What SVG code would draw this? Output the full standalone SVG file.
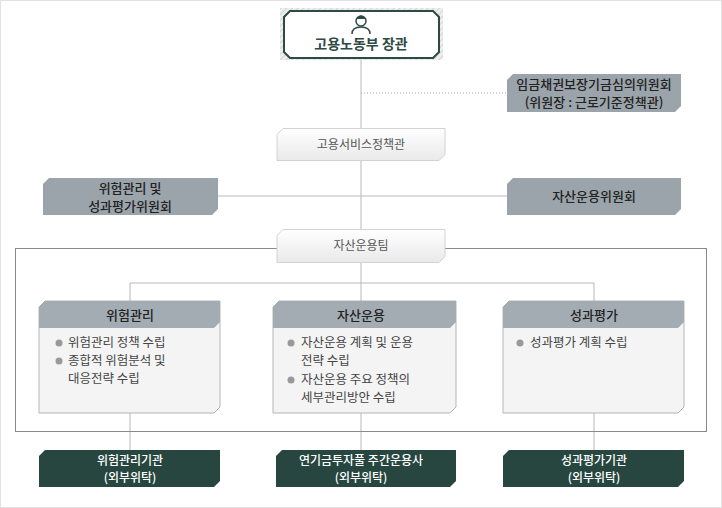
<svg xmlns="http://www.w3.org/2000/svg" width="722" height="508" viewBox="0 0 722 508">
<style>
text{font-family:"Noto Sans CJK KR","Noto Sans",sans-serif;text-anchor:middle}
.ln{stroke:#b9b9b9;stroke-width:1;fill:none}
.gray{fill:#9ba4ab}
.gt{font-size:13px;fill:#222;font-weight:500}
.lt{fill:url(#lg);stroke:#d2d2d2}
.dk{fill:#27463f}
.wt{font-size:12px;fill:#fff;font-weight:500}
.bt{font-size:12.5px;fill:#444;text-anchor:start}
.bul{fill:#999}
</style>
<defs>
<linearGradient id="lg" x1="0" y1="0" x2="0" y2="1"><stop offset="0" stop-color="#ffffff"/><stop offset="1" stop-color="#e9e9e9"/></linearGradient>
<pattern id="hatch" width="4" height="4" patternUnits="userSpaceOnUse" patternTransform="rotate(45)"><rect width="4" height="4" fill="#eee"/><line x1="0" y1="0" x2="0" y2="4" stroke="#ccc" stroke-width="1.5"/></pattern>
</defs>
<rect width="722" height="508" fill="#fff"/>
<rect x="0.5" y="0.5" width="721" height="507" fill="none" stroke="#e2e2e2"/>
<g id="connectors">
<line class="ln" x1="361" y1="58" x2="361" y2="229"/>
<line x1="361" y1="93" x2="507" y2="93" stroke="#aaa" stroke-dasharray="1,2"/>
<line class="ln" x1="218" y1="196" x2="507" y2="196"/>
<line class="ln" x1="361" y1="262" x2="361" y2="301"/>
<line class="ln" x1="130" y1="283" x2="594" y2="283"/>
<line class="ln" x1="130" y1="283" x2="130" y2="301"/>
<line class="ln" x1="594" y1="283" x2="594" y2="301"/>
<line class="ln" x1="130" y1="412" x2="130" y2="450"/>
<line class="ln" x1="361" y1="412" x2="361" y2="450"/>
<line class="ln" x1="594" y1="412" x2="594" y2="450"/>
</g>
<rect x="15.5" y="248.5" width="691" height="183" fill="none" stroke="#8a8a8a"/>
<g id="minister">
<path d="M280,8h163v52h-163z" fill="url(#hatch)"/>
<path d="M290,11h143l6,6v35l-6,6h-143l-6-6v-35z" fill="#fff" stroke="#2d4a45" stroke-width="2"/>
<circle cx="361" cy="21" r="5" fill="#fff" stroke="#2d4a45" stroke-width="1.5"/>
<path d="M356,19q5,-7 10,0" fill="#2d4a45"/>
<path d="M352,34q0,-7 9,-7q9,0 9,7" fill="none" stroke="#2d4a45" stroke-width="1.5"/>
<text x="361" y="49" font-size="14" font-weight="700" fill="#2d4a45">고용노동부 장관</text>
</g>
<g id="wage"><path class="gray" d="M513,74h168v32l-6,6h-168v-32z"/>
<text class="gt" x="594" y="89">임금채권보장기금심의위원회</text><text class="gt" x="594" y="107">(위원장 : 근로기준정책관)</text></g>
<g id="policy"><path class="lt" d="M283,128.5h162v26l-6,6h-162v-26z"/><text x="361" y="149" font-size="12" fill="#555">고용서비스정책관</text></g>
<g id="risk-comm"><path class="gray" d="M49,178h169v31l-6,6h-169v-31z"/>
<text class="gt" x="130" y="193">위험관리 및</text><text class="gt" x="130" y="211">성과평가위원회</text></g>
<g id="asset-comm"><path class="gray" d="M513,178h168v31l-6,6h-168v-31z"/><text class="gt" x="594" y="201">자산운용위원회</text></g>
<g id="team"><path class="lt" d="M283,229.5h162v27l-6,6h-162v-27z"/><text x="361" y="250" font-size="12" fill="#555">자산운용팀</text></g>
<g id="risk">
<path d="M39,307l6,-6h175v106l-6,6h-175z" fill="#f4f4f4" stroke="#b5b5b5"/>
<path d="M39,307l6,-6h175v21l-6,6h-175z" fill="#a3acb3"/>
<text class="gt" x="130" y="320">위험관리</text>
<circle class="bul" cx="59" cy="343" r="3.5"/><text class="bt" x="68" y="347">위험관리 정책 수립</text>
<circle class="bul" cx="59" cy="361" r="3.5"/><text class="bt" x="68" y="365">종합적 위험분석 및</text>
<text class="bt" x="68" y="383">대응전략 수립</text>
</g>
<g id="asset">
<path d="M273,307l6,-6h177v106l-6,6h-177z" fill="#f4f4f4" stroke="#b5b5b5"/>
<path d="M273,307l6,-6h177v21l-6,6h-177z" fill="#a3acb3"/>
<text class="gt" x="361" y="320">자산운용</text>
<circle class="bul" cx="291" cy="343" r="3.5"/><text class="bt" x="301" y="347">자산운용 계획 및 운용</text>
<text class="bt" x="301" y="365">전략 수립</text>
<circle class="bul" cx="291" cy="380" r="3.5"/><text class="bt" x="301" y="384">자산운용 주요 정책의</text>
<text class="bt" x="301" y="402">세부관리방안 수립</text>
</g>
<g id="perf">
<path d="M503,307l6,-6h175v106l-6,6h-175z" fill="#f4f4f4" stroke="#b5b5b5"/>
<path d="M503,307l6,-6h175v21l-6,6h-175z" fill="#a3acb3"/>
<text class="gt" x="594" y="320">성과평가</text>
<circle class="bul" cx="520" cy="343" r="3.5"/><text class="bt" x="530" y="347">성과평가 계획 수립</text>
</g>
<g id="ext1"><path class="dk" d="M39,456l6,-6h175v31l-6,6h-175z"/><text class="wt" x="130" y="465">위험관리기관</text><text class="wt" x="130" y="482">(외부위탁)</text></g>
<g id="ext2"><path class="dk" d="M276,456l6,-6h174v31l-6,6h-174z"/><text class="wt" x="361" y="465">연기금투자풀 주간운용사</text><text class="wt" x="361" y="482">(외부위탁)</text></g>
<g id="ext3"><path class="dk" d="M503,456l6,-6h175v31l-6,6h-175z"/><text class="wt" x="594" y="465">성과평가기관</text><text class="wt" x="594" y="482">(외부위탁)</text></g>
</svg>
